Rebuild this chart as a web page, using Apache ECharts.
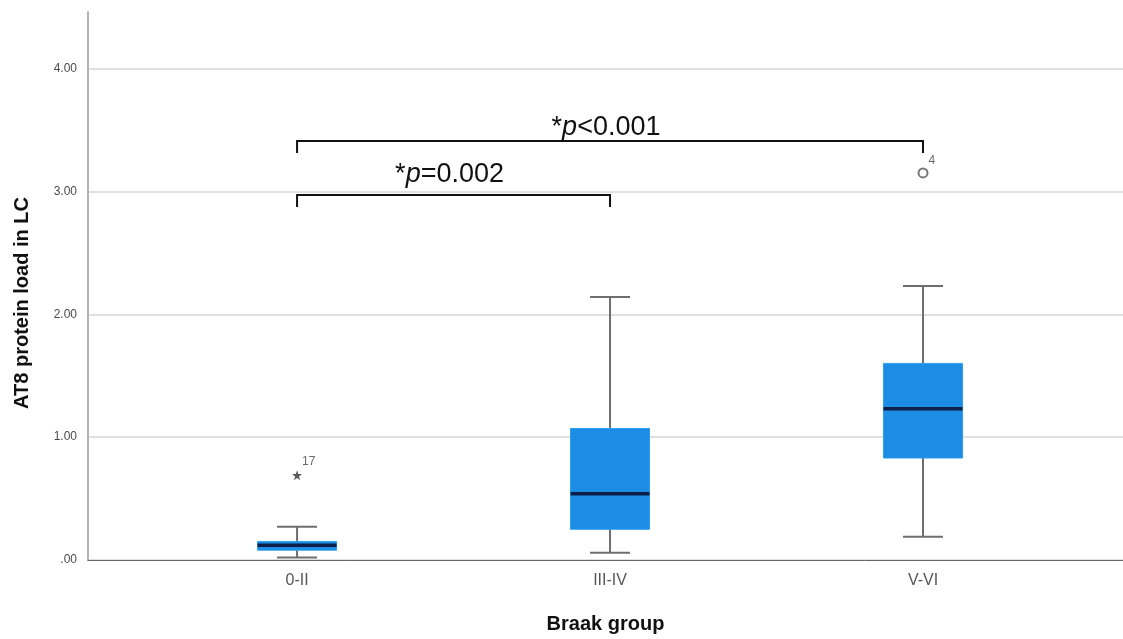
<!DOCTYPE html>
<html>
<head>
<meta charset="utf-8">
<title>AT8 protein load in LC by Braak group</title>
<script src="https://cdn.jsdelivr.net/npm/echarts@6/dist/echarts.min.js"></script>
<style>
  html, body { margin: 0; padding: 0; background: #fff; }
  #chart { width: 1123px; height: 639px; }
</style>
</head>
<body>
<div id="chart"></div>
<script>
// Braak groups on the horizontal axis
const categories = ['0-II', 'III-IV', 'V-VI'];

// Box plot statistics per group
const whiskerLow  = [0.02, 0.06, 0.19];
const quartile1   = [0.08, 0.25, 0.83];
const medians     = [0.12, 0.54, 1.23];
const quartile3   = [0.15, 1.07, 1.60];
const whiskerHigh = [0.27, 2.14, 2.23];

// Extreme values (star) and outliers (circle) with case numbers
const extremeGroups = ['0-II'];
const extremeValues = [0.69];
const extremeCases  = ['17'];
const outlierGroups = ['V-VI'];
const outlierValues = [3.15];
const outlierCases  = ['4'];

// Value axis tick labels
const yTickLabels = ['.00', '1.00', '2.00', '3.00', '4.00'];

// Pairwise comparisons
const compareFrom   = ['0-II', '0-II'];
const compareTo     = ['III-IV', 'V-VI'];
const compareLevel  = [2.97, 3.41];
const compareSign   = ['=', '<'];
const compareValue  = ['0.002', '0.001'];

const FONT = '"Liberation Sans", Arial, sans-serif';
const pos = name => categories.indexOf(name) + 1;

const boxData = categories.map((c, i) =>
  [i + 1, whiskerLow[i], quartile1[i], medians[i], quartile3[i], whiskerHigh[i]]);
const extremeData = extremeGroups.map((g, i) => ({ value: [pos(g), extremeValues[i]], case: extremeCases[i] }));
const outlierData = outlierGroups.map((g, i) => ({ value: [pos(g), outlierValues[i]], case: outlierCases[i] }));
const bracketData = compareFrom.map((f, i) => [pos(f), pos(compareTo[i]), compareLevel[i], i]);

const BOX_HALF = 39.5;   // half box width, px
const CAP_HALF = 20;     // half whisker cap width, px
const DROP = 12;         // bracket end drop, px
const LABEL_GAP = [7, 0];

const chart = echarts.init(document.getElementById('chart'), null, { renderer: 'canvas' });

chart.setOption({
  animation: false,
  backgroundColor: '#ffffff',
  grid: { left: 88, right: 0, top: 12, bottom: 76 },
  xAxis: {
    type: 'value',
    min: 0.332,
    max: 3.639,
    name: 'Braak group',
    nameLocation: 'middle',
    nameGap: 54,
    nameTextStyle: { fontFamily: FONT, fontSize: 20, fontWeight: 'bold', color: '#111' },
    axisLine: { show: true, onZero: false, lineStyle: { color: '#666', width: 1 } },
    axisTick: { show: false },
    splitLine: { show: false },
    axisLabel: {
      customValues: categories.map((c, i) => i + 1),
      formatter: v => categories[Math.round(v) - 1] || '',
      fontFamily: FONT, fontSize: 16, color: '#555', margin: 13
    }
  },
  yAxis: {
    type: 'value',
    min: 0,
    max: 4.46,
    interval: 1,
    axisLine: { show: true, lineStyle: { color: '#b4b4b4', width: 2 } },
    axisTick: { show: false },
    splitLine: { show: true, showMaxLine: false, lineStyle: { color: '#d4d4d4', width: 1.5 } },
    axisLabel: {
      showMaxLabel: false,
      formatter: v => yTickLabels[Math.round(v)] || '',
      fontFamily: FONT, fontSize: 12, color: '#4a4a4a', margin: 11
    }
  },
  graphic: [{
    type: 'text',
    x: 22, y: 303,
    rotation: Math.PI / 2,
    style: {
      text: 'AT8 protein load in LC',
      font: 'bold 20px ' + FONT,
      fill: '#111',
      align: 'center',
      verticalAlign: 'middle'
    }
  }],
  series: [
    {
      type: 'custom',
      name: 'boxes',
      data: boxData,
      encode: { x: 0, y: [1, 2, 3, 4, 5] },
      renderItem: (params, api) => {
        const x = api.value(0);
        const pLo = api.coord([x, api.value(1)]);
        const pQ1 = api.coord([x, api.value(2)]);
        const pMd = api.coord([x, api.value(3)]);
        const pQ3 = api.coord([x, api.value(4)]);
        const pHi = api.coord([x, api.value(5)]);
        const cx = pLo[0];
        const whisker = { stroke: '#6e6e6e', lineWidth: 2 };
        return {
          type: 'group',
          children: [
            { type: 'line', shape: { x1: cx, y1: pLo[1], x2: cx, y2: pQ1[1] }, style: whisker },
            { type: 'line', shape: { x1: cx, y1: pQ3[1], x2: cx, y2: pHi[1] }, style: whisker },
            { type: 'line', shape: { x1: cx - CAP_HALF, y1: pLo[1], x2: cx + CAP_HALF, y2: pLo[1] }, style: whisker },
            { type: 'line', shape: { x1: cx - CAP_HALF, y1: pHi[1], x2: cx + CAP_HALF, y2: pHi[1] }, style: whisker },
            { type: 'rect', shape: { x: cx - BOX_HALF, y: pQ3[1], width: BOX_HALF * 2, height: pQ1[1] - pQ3[1] },
              style: { fill: '#1c8ce4', stroke: '#2aa0f0', lineWidth: 1 } },
            { type: 'line', shape: { x1: cx - BOX_HALF, y1: pMd[1], x2: cx + BOX_HALF, y2: pMd[1] },
              style: { stroke: '#0c1f48', lineWidth: 3.5 } }
          ]
        };
      },
      z: 3
    },
    {
      type: 'scatter',
      name: 'extremes',
      data: extremeData,
      symbol: 'path://M50,0 L61.8,35.1 L97.6,35.1 L68.6,56.7 L79.4,90.5 L50,70 L20.6,90.5 L31.4,56.7 L2.4,35.1 L38.2,35.1 Z',
      symbolSize: 10,
      itemStyle: { color: '#333' },
      label: {
        show: true,
        formatter: p => p.data.case,
        position: [10, -15],
        fontFamily: FONT, fontSize: 12, color: '#444'
      },
      z: 4
    },
    {
      type: 'scatter',
      name: 'outliers',
      data: outlierData,
      symbol: 'emptyCircle',
      symbolSize: 9,
      itemStyle: { color: '#555', borderColor: '#555', borderWidth: 1.5 },
      label: {
        show: true,
        formatter: p => p.data.case,
        position: [11, -13],
        fontFamily: FONT, fontSize: 12, color: '#444'
      },
      z: 4
    },
    {
      type: 'custom',
      name: 'comparisons',
      data: bracketData,
      encode: { x: [0, 1], y: 2 },
      renderItem: (params, api) => {
        const level = api.value(2);
        const idx = api.value(3);
        const a = api.coord([api.value(0), level]);
        const b = api.coord([api.value(1), level]);
        const mid = (a[0] + b[0]) / 2 - 4;
        return {
          type: 'group',
          children: [
            { type: 'polyline',
              shape: { points: [[a[0], a[1] + DROP], a, b, [b[0], b[1] + DROP]] },
              style: { stroke: '#111', lineWidth: 2, fill: null } },
            { type: 'text',
              style: {
                x: mid, y: a[1] - LABEL_GAP[idx],
                text: '{s|*}{p|p}{s|' + compareSign[idx] + compareValue[idx] + '}',
                align: 'center', verticalAlign: 'bottom',
                rich: {
                  s: { font: '27px ' + FONT, fill: '#111' },
                  p: { font: 'italic 27px ' + FONT, fill: '#111' }
                }
              } }
          ]
        };
      },
      z: 5
    }
  ]
});
</script>
</body>
</html>
